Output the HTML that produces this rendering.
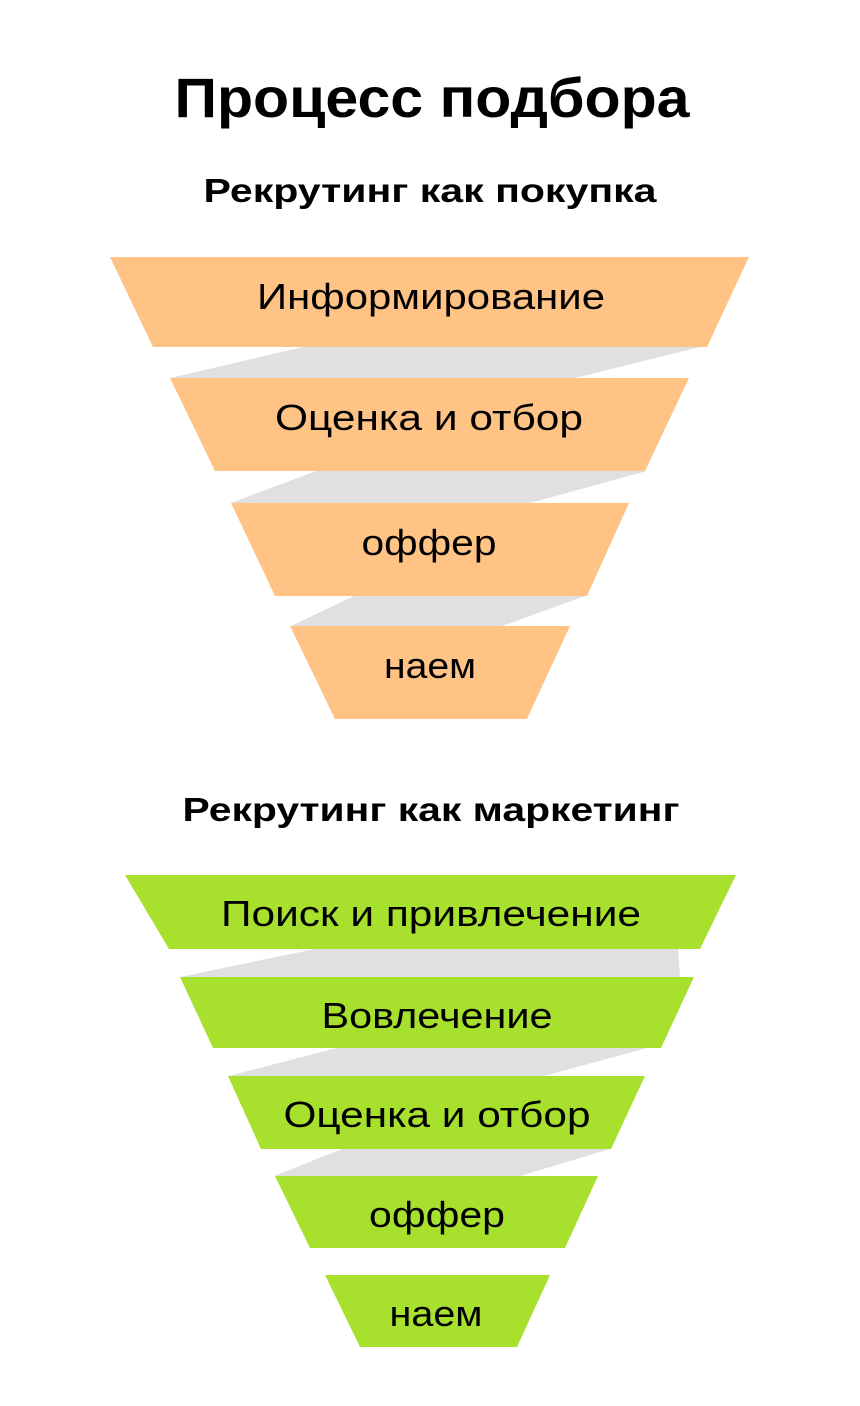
<!DOCTYPE html>
<html><head><meta charset="utf-8"><style>
html,body{margin:0;padding:0;background:#fff;}
svg{display:block;}
text{font-family:"Liberation Sans","DejaVu Sans",sans-serif;fill:#000;}
.t{font-weight:bold;}
.l{font-size:36px;}
</style></head><body>
<svg width="860" height="1406" viewBox="0 0 860 1406" xmlns="http://www.w3.org/2000/svg">
<text class="t" x="432" y="117" font-size="56" text-anchor="middle" textLength="515" lengthAdjust="spacingAndGlyphs">Процесс подбора</text>
<text class="t" x="430" y="202" font-size="33" text-anchor="middle" textLength="453" lengthAdjust="spacingAndGlyphs">Рекрутинг как покупка</text>
<text class="t" x="431" y="821" font-size="33" text-anchor="middle" textLength="497" lengthAdjust="spacingAndGlyphs">Рекрутинг как маркетинг</text>

<!-- orange funnel -->
<g fill="#e0e0e0">
<polygon points="303,347 700,347 575,378 170,378"/>
<polygon points="316,471 647,471 530,503 231,503"/>
<polygon points="354,596 585,596 502,626 291,626"/>
</g>
<g fill="#ffc385">
<polygon points="110,257 749,257 707,347 153,347"/>
<polygon points="170,378 689,378 645,471 215,471"/>
<polygon points="231,503 629,503 587,596 275,596"/>
<polygon points="290,626 570,626 527,719 335,719"/>
</g>
<g class="l" text-anchor="middle">
<text x="431" y="309" textLength="348" lengthAdjust="spacingAndGlyphs">Информирование</text>
<text x="429" y="430" textLength="308" lengthAdjust="spacingAndGlyphs">Оценка и отбор</text>
<text x="429" y="555" textLength="135" lengthAdjust="spacingAndGlyphs">оффер</text>
<text x="430" y="678" textLength="92" lengthAdjust="spacingAndGlyphs">наем</text>
</g>

<!-- green funnel -->
<g fill="#e0e0e0">
<polygon points="315,949 678,949 681,993 180,977"/>
<polygon points="337,1048 647,1048 544,1076 228,1076"/>
<polygon points="342,1149 610,1149 520,1176 274,1176"/>
</g>
<g fill="#a8e02e">
<polygon points="125,875 736,875 700,949 169,949"/>
<polygon points="180,977 694,977 661,1048 213,1048"/>
<polygon points="228,1076 645,1076 611,1149 261,1149"/>
<polygon points="275,1176 598,1176 565,1248 310,1248"/>
<polygon points="325,1275 550,1275 517,1347 360,1347"/>
</g>
<g class="l" text-anchor="middle">
<text x="431" y="926" textLength="420" lengthAdjust="spacingAndGlyphs">Поиск и привлечение</text>
<text x="437" y="1028" textLength="231" lengthAdjust="spacingAndGlyphs">Вовлечение</text>
<text x="437" y="1127" textLength="307" lengthAdjust="spacingAndGlyphs">Оценка и отбор</text>
<text x="437" y="1227" textLength="136" lengthAdjust="spacingAndGlyphs">оффер</text>
<text x="436" y="1326" textLength="93" lengthAdjust="spacingAndGlyphs">наем</text>
</g>
</svg>
</body></html>
